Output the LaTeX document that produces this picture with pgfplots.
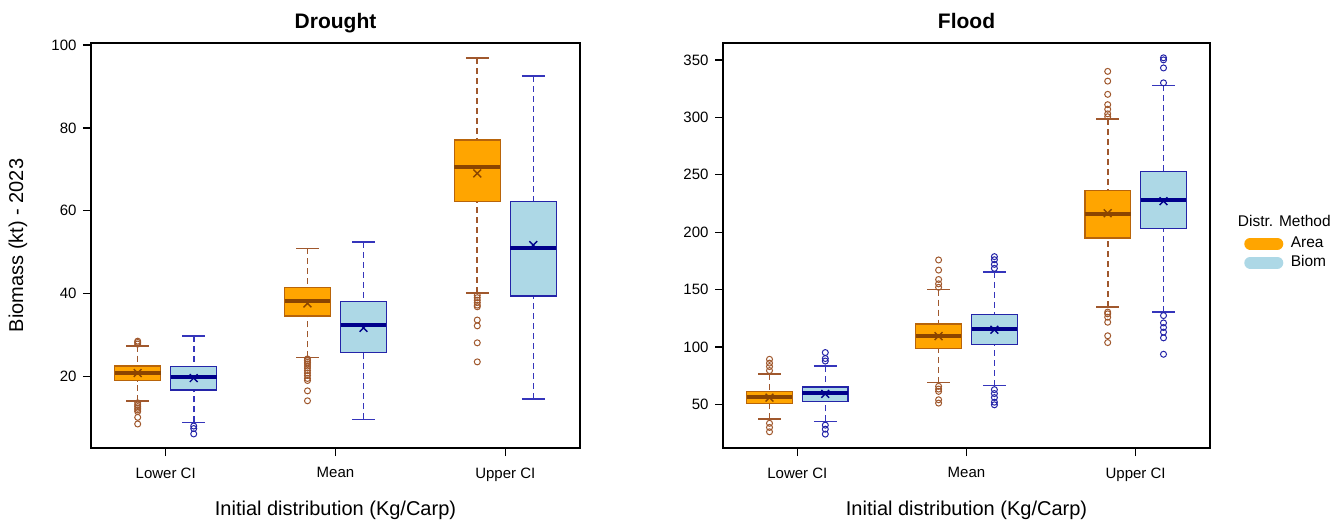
\documentclass[border=0pt]{standalone}
\usepackage{fontspec}
\setmainfont{Liberation Sans}
\usepackage{pgfplots}
\pgfplotsset{compat=1.18}
\usepgfplotslibrary{statistics}

\definecolor{areaFill}{HTML}{FFA500}
\definecolor{areaBorder}{HTML}{B8640A}
\definecolor{areaMed}{HTML}{8B4500}
\definecolor{areaWhisk}{HTML}{A0582D}
\definecolor{biomFill}{HTML}{ADD8E6}
\definecolor{biomBorder}{HTML}{2424A8}
\definecolor{biomMed}{HTML}{00008B}
\definecolor{biomWhisk}{HTML}{3535BB}

\pgfplotsset{
  boxplot/draw direction=y,
  boxplot/draw/lower whisker/.code={%
    \draw[/pgfplots/boxplot/every whisker/.try, dash pattern=on 6pt off 4pt]
      (boxplot box cs:\pgfplotsboxplotvalue{lower whisker},0.5) -- (boxplot box cs:\pgfplotsboxplotvalue{lower quartile},0.5);
    \draw[/pgfplots/boxplot/every whisker/.try]
      (boxplot whisker cs:\pgfplotsboxplotvalue{lower whisker},0) -- (boxplot whisker cs:\pgfplotsboxplotvalue{lower whisker},1);
  },
  boxplot/draw/upper whisker/.code={%
    \draw[/pgfplots/boxplot/every whisker/.try, dash pattern=on 6pt off 4pt]
      (boxplot box cs:\pgfplotsboxplotvalue{upper whisker},0.5) -- (boxplot box cs:\pgfplotsboxplotvalue{upper quartile},0.5);
    \draw[/pgfplots/boxplot/every whisker/.try]
      (boxplot whisker cs:\pgfplotsboxplotvalue{upper whisker},0) -- (boxplot whisker cs:\pgfplotsboxplotvalue{upper whisker},1);
  },
  areabox/.style={
    forget plot,
    boxplot/draw direction=y,
    boxplot/box extend=0.27, boxplot/whisker extend=0.135,
    boxplot/every box/.style={draw=areaBorder, fill=areaFill, line width=1.3pt},
    boxplot/every median/.style={draw=areaMed, line width=4pt},
    boxplot/every whisker/.style={draw=areaWhisk, line width=1.6pt},
    mark=o, mark size=3pt, mark options={draw=areaWhisk, line width=1pt, solid},
    draw=areaWhisk,
  },
  biombox/.style={
    forget plot,
    boxplot/draw direction=y,
    boxplot/box extend=0.27, boxplot/whisker extend=0.135,
    boxplot/every box/.style={draw=biomBorder, fill=biomFill, line width=1.3pt},
    boxplot/every median/.style={draw=biomMed, line width=4pt},
    boxplot/every whisker/.style={draw=biomWhisk, line width=1.6pt},
    mark=o, mark size=3pt, mark options={draw=biomBorder, line width=1pt, solid},
    draw=biomWhisk,
  },
  areamean/.style={forget plot, only marks, mark=x, mark size=5.5pt, mark options={draw=areaMed, line width=1.4pt, solid}},
  biommean/.style={forget plot, only marks, mark=x, mark size=5.5pt, mark options={draw=biomMed, line width=1.4pt, solid}},
  myaxis/.style={
    scale only axis, width=489pt, height=405pt,
    anchor=south west,
    xmin=0.56, xmax=3.44,
    xtick={1,2,3}, xticklabels={Lower CI, Mean, Upper CI},
    tick pos=left, tick align=outside, major tick length=8pt,
    axis line style={line width=1.3pt},
    every tick/.style={black, line width=1.3pt},
    tick label style={font=\fontsize{15}{17}\selectfont},
    xticklabel style={yshift=-8pt},
    yticklabel style={xshift=-3pt},
    /pgf/number format/assume math mode=true,
    xlabel={Initial distribution (Kg/Carp)},
    label style={font=\fontsize{20}{24}\selectfont},
    xlabel style={at={(axis description cs:0.5,0)}, anchor=center, yshift=-62pt},
    title style={font=\fontsize{21}{25}\selectfont\bfseries, at={(axis description cs:0.5,1)}, anchor=base, yshift=8.5pt},
    clip=false,
  },
}

\begin{document}
\begin{tikzpicture}
\path (0pt,0pt) rectangle (1344pt,530pt);

% ---------------- Drought ----------------
\begin{axis}[myaxis, at={(91pt,82pt)}, title={Drought},
  ymin=2.7, ymax=100.5, ytick={20,40,60,80,100},
  ylabel={Biomass (kt) - 2023},
  ylabel style={at={(axis description cs:0,0.5)}, anchor=center, yshift=73pt}]
\addplot[areabox, boxplot prepared={draw position=0.835, lower whisker=14.05, lower quartile=18.95, median=20.9, upper quartile=22.5, upper whisker=27.4}]
  coordinates {(0,27.8)(0,28.2)(0,28.5)(0,13.6)(0,13.1)(0,12.7)(0,12.3)(0,11.9)(0,11.5)(0,10.1)(0,8.5)};
\addplot[biombox, boxplot prepared={draw position=1.165, lower whisker=8.9, lower quartile=16.7, median=19.9, upper quartile=22.3, upper whisker=29.7}]
  coordinates {(0,8.0)(0,7.4)(0,6.1)};
\addplot[areabox, boxplot prepared={draw position=1.835, lower whisker=24.6, lower quartile=34.6, median=38.1, upper quartile=41.4, upper whisker=50.9}]
  coordinates {(0,24.2)(0,23.8)(0,23.4)(0,23.0)(0,22.5)(0,22.0)(0,21.4)(0,20.8)(0,20.2)(0,19.5)(0,19.0)(0,16.5)(0,14.1)};
\addplot[biombox, boxplot prepared={draw position=2.165, lower whisker=9.6, lower quartile=25.7, median=32.5, upper quartile=38.0, upper whisker=52.4}]
  coordinates {};
\addplot[areabox, boxplot prepared={draw position=2.835, lower whisker=40.2, lower quartile=62.2, median=70.6, upper quartile=77.1, upper whisker=96.9}]
  coordinates {(0,39.6)(0,39.0)(0,38.4)(0,37.8)(0,37.2)(0,36.8)(0,33.6)(0,32.2)(0,28.1)(0,23.5)};
\addplot[biombox, boxplot prepared={draw position=3.165, lower whisker=14.5, lower quartile=39.4, median=50.9, upper quartile=62.2, upper whisker=92.5}]
  coordinates {};
\addplot[areamean] coordinates {(0.835,20.8) (1.835,37.6) (2.835,69.0)};
\addplot[biommean] coordinates {(1.165,19.6) (2.165,31.7) (3.165,51.7)};
\end{axis}

% ---------------- Flood ----------------
\begin{axis}[myaxis, at={(723pt,82pt)}, width=487pt, title={Flood},
  ymin=12.1, ymax=364.7, ytick={50,100,150,200,250,300,350},
  legend style={draw=none, fill=none, at={(1.07,0.527)}, anchor=north west,
    font=\fontsize{15.5}{19}\selectfont, inner sep=0pt, row sep=1pt,
    nodes={inner sep=1.5pt, text height=11pt, text depth=4pt},
    /tikz/every odd column/.style={column sep=6pt}},
  legend cell align=left]
\addlegendimage{legend image code/.code={\draw[line width=12pt, line cap=round, color=areaFill] (6pt,0pt) -- (33pt,0pt);}}
\addlegendentry{Area}
\addlegendimage{legend image code/.code={\draw[line width=12pt, line cap=round, color=biomFill] (6pt,0pt) -- (33pt,0pt);}}
\addlegendentry{Biom}
\addplot[areabox, boxplot prepared={draw position=0.835, lower whisker=37.1, lower quartile=50.6, median=56.2, upper quartile=61.4, upper whisker=76.7}]
  coordinates {(0,79.5)(0,83.0)(0,86.0)(0,89.3)(0,33.6)(0,30.0)(0,26.2)};
\addplot[biombox, boxplot prepared={draw position=1.165, lower whisker=35.3, lower quartile=52.6, median=59.7, upper quartile=65.2, upper whisker=83.4}]
  coordinates {(0,87.8)(0,90.0)(0,95.2)(0,32.0)(0,28.5)(0,24.2)};
\addplot[areabox, boxplot prepared={draw position=1.835, lower whisker=69.0, lower quartile=99.0, median=109.5, upper quartile=120.1, upper whisker=150.0}]
  coordinates {(0,152.0)(0,155.0)(0,158.8)(0,167.0)(0,175.8)(0,65.8)(0,63.4)(0,61.4)(0,54.1)(0,51.2)};
\addplot[biombox, boxplot prepared={draw position=2.165, lower whisker=66.4, lower quartile=102.5, median=115.7, upper quartile=128.3, upper whisker=165.5}]
  coordinates {(0,168.5)(0,172.0)(0,176.0)(0,178.7)(0,62.9)(0,59.5)(0,56.0)(0,52.0)(0,49.7)};
\addplot[areabox, boxplot prepared={draw position=2.835, lower whisker=135.0, lower quartile=194.9, median=216.0, upper quartile=236.5, upper whisker=298.4}]
  coordinates {(0,300.5)(0,303.0)(0,307.0)(0,311.0)(0,320.0)(0,331.5)(0,340.0)(0,130.4)(0,128.9)(0,126.0)(0,121.6)(0,109.8)(0,103.9)};
\addplot[biombox, boxplot prepared={draw position=3.165, lower whisker=130.4, lower quartile=203.0, median=228.3, upper quartile=253.0, upper whisker=327.7}]
  coordinates {(0,330.0)(0,343.0)(0,350.0)(0,351.8)(0,127.4)(0,121.0)(0,117.0)(0,113.0)(0,108.0)(0,93.7)};
\addplot[areamean] coordinates {(0.835,56.0) (1.835,109.5) (2.835,216.5)};
\addplot[biommean] coordinates {(1.165,59.2) (2.165,115.0) (3.165,227.0)};
\node[anchor=west, font=\fontsize{15.5}{19}\selectfont, inner sep=0pt] at (rel axis cs:1.057,0.56) {Distr. Method};
\end{axis}
\end{tikzpicture}
\end{document}
